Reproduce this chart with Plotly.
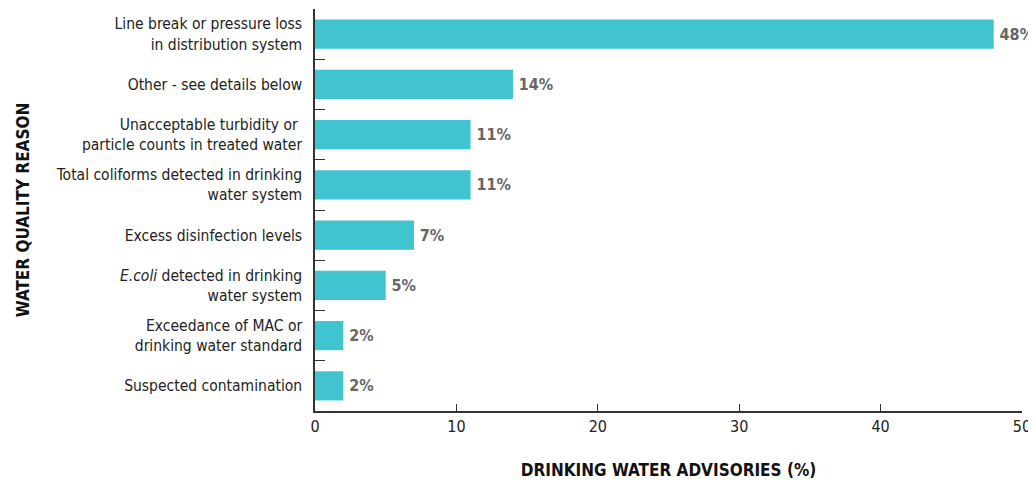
import plotly.graph_objects as go

categories = [
    "Line break or pressure loss<br>in distribution system",
    "Other - see details below",
    "Unacceptable turbidity or <br>particle counts in treated water",
    "Total coliforms detected in drinking<br>water system",
    "Excess disinfection levels",
    "<i>E.coli</i> detected in drinking<br>water system",
    "Exceedance of MAC or<br>drinking water standard",
    "Suspected contamination",
]
values = [48, 14, 11, 11, 7, 5, 2, 2]
x_ticks = [0, 10, 20, 30, 40, 50]

FONT = "Liberation Sans Narrow, DejaVu Sans Condensed, Arial Narrow, sans-serif"

fig = go.Figure(
    go.Bar(
        x=values,
        y=categories,
        orientation="h",
        marker=dict(color="#40C4CF", line=dict(width=0)),
        width=0.58,
        text=[f"\u2009{v}%" for v in values],
        textposition="outside",
        textfont=dict(family=FONT, size=16, color="#666666", weight="bold"),
        cliponaxis=False,
        hoverinfo="skip",
    )
)

# the page body has an 8px margin, so the figure is sized to fit inside it
fig.update_layout(
    width=1028,
    height=477,
    margin=dict(l=307, r=14, t=1, b=74),
    paper_bgcolor="white",
    plot_bgcolor="white",
    showlegend=False,
    font=dict(family=FONT, size=15, color="#222222"),
)

fig.update_xaxes(
    range=[0, 50],
    tickvals=x_ticks,
    ticks="inside",
    ticklen=7,
    tickwidth=1.2,
    tickcolor="#333333",
    showline=True,
    linecolor="#333333",
    linewidth=1.5,
    showgrid=False,
    zeroline=False,
    automargin=False,
    tickfont=dict(family=FONT, size=16, color="#222222"),
    title=dict(
        text="<b>DRINKING WATER ADVISORIES (%)</b>",
        font=dict(family=FONT, size=17, color="#111111"),
        standoff=29,
    ),
)

fig.update_yaxes(
    categoryorder="array",
    categoryarray=categories,
    range=[7.5, -0.5],
    ticks="inside",
    tickson="boundaries",
    ticklen=10,
    tickwidth=1.2,
    tickcolor="#333333",
    showline=True,
    linecolor="#333333",
    linewidth=1.5,
    showgrid=False,
    zeroline=False,
    automargin=False,
    ticklabelstandoff=8,
    tickfont=dict(family=FONT, size=15.5, color="#222222"),
    title=dict(
        text="<b>WATER QUALITY REASON</b>",
        font=dict(family=FONT, size=17, color="#111111"),
        standoff=22,
    ),
)

fig.write_html("out.html")
